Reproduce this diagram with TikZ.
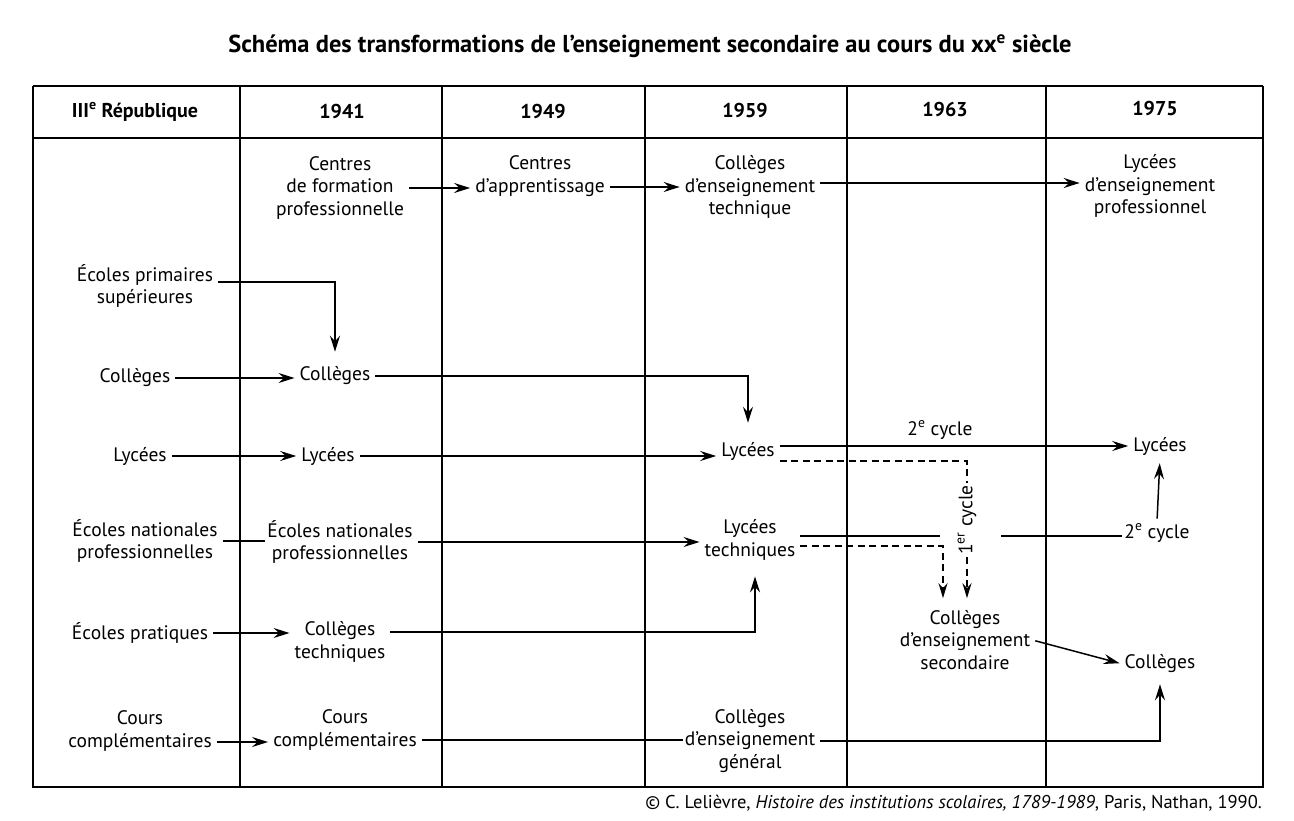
\documentclass[tikz,border=0pt]{standalone}
\usepackage{fontspec}
\setmainfont{PT Sans}
\usetikzlibrary{arrows.meta}

\tikzset{
  lbl/.style={align=center, inner sep=2pt, font=\fontsize{19.5}{22.5}\selectfont},
  head/.style={inner sep=2pt, font=\bfseries\fontsize{20}{22}\selectfont},
  link/.style={line width=1.5pt, shorten <=3pt},
  arr/.style={link, -{Stealth[length=16pt,width=10pt,inset=5.5pt]}, shorten >=3pt},
  dashlink/.style={line width=1.3pt, dash pattern=on 7pt off 4.5pt},
  dasharr/.style={dashlink, -{Stealth[length=15pt,width=9pt,inset=5pt]}},
  rule/.style={line width=1.3pt},
  thickrule/.style={line width=2.4pt}
}

\begin{document}
\begin{tikzpicture}[x=1pt,y=-1pt]
\useasboundingbox[fill=white] (0,0) rectangle (1294,821);

% title
\node[font=\bfseries\fontsize{24.5}{26}\selectfont] (title) at (650,46) {Schéma des transformations de l’enseignement secondaire au cours du xx\textsuperscript{e} siècle};

% table
\draw[thickrule] (33,86) -- (1263,86);
\draw[thickrule] (33,138) -- (1263,138);
\draw[rule] (33,86) -- (33,787) -- (1263,787) -- (1263,86);
\foreach \x in {240,442,645,847,1046}
  \draw[rule] (\x,86) -- (\x,787);

\node[head] (h0) at (135,112) {III\textsuperscript{e} République};
\node[head] (h1) at (342,112) {1941};
\node[head] (h2) at (543,112) {1949};
\node[head] (h3) at (745,111) {1959};
\node[head] (h4) at (945,110) {1963};
\node[head] (h5) at (1155,109) {1975};

% institutions
\node[lbl] (cfp)  at (340,188) {Centres\\de formation\\professionnelle};
\node[lbl] (ca)   at (540,176) {Centres\\d’apprentissage};
\node[lbl] (cet)  at (750,187) {Collèges\\d’enseignement\\technique};
\node[lbl] (lep)  at (1150,186) {Lycées\\d’enseignement\\professionnel};

\node[lbl] (eps)  at (145,286) {Écoles primaires\\supérieures};
\node[lbl] (col0) at (135,378) {Collèges};
\node[lbl] (col1) at (335,376) {Collèges};

\node[lbl] (lyc0) at (140,456) {Lycées};
\node[lbl] (lyc1) at (328,456) {Lycées};
\node[lbl] (lyc3) at (748,451) {Lycées};
\node[lbl] (lyc5) at (1160,446) {Lycées};
\node[lbl] (cyc2a) at (940,430) {2\textsuperscript{e} cycle};

\node[lbl] (enp0) at (145,541) {Écoles nationales\\professionnelles};
\node[lbl] (enp1) at (340,542) {Écoles nationales\\professionnelles};
\node[lbl] (lt3)  at (750,540) {Lycées\\techniques};
\node[lbl] (cyc2b) at (1157,533) {2\textsuperscript{e} cycle};
\node[lbl, rotate=90] (cyc1) at (967,520) {1\textsuperscript{er} cycle};

\node[lbl] (ces)  at (965,640) {Collèges\\d’enseignement\\secondaire};
\node[lbl] (col5) at (1160,664) {Collèges};
\node[lbl] (ep0)  at (140,633) {Écoles pratiques};
\node[lbl] (ct1)  at (340,642) {Collèges\\techniques};

\node[lbl] (cc0)  at (140,731) {Cours\\complémentaires};
\node[lbl] (cc1)  at (345,730) {Cours\\complémentaires};
\node[lbl] (ceg)  at (750,741) {Collèges\\d’enseignement\\général};

\coordinate (gapL) at (940,536);
\coordinate (gapR) at (998,536);

% connectors
\draw[arr] (cfp.east) -- (cfp.east -| ca.west);
\draw[arr] ([yshift=-11pt]ca.east) -- ([yshift=-11pt]ca.east -| cet.west);
\draw[arr] ([yshift=4pt]cet.east) -- ([yshift=4pt]cet.east -| lep.west);

\draw[arr, shorten >=13pt] ([yshift=4pt]eps.north east |- eps.east) -| (col1.north);
\draw[arr] (col0.east) -- (col0.east -| col1.west);
\draw[arr, shorten >=17pt] (col1.east) -| (lyc3.north);

\draw[arr] (lyc0.east) -- (lyc0.east -| lyc1.west);
\draw[arr] (lyc1.east) -- (lyc1.east -| lyc3.west);
\draw[arr] ([yshift=5pt]lyc3.east) -- ([yshift=5pt]lyc3.east -| lyc5.west);

\draw[dashlink] ([yshift=-10pt,xshift=3pt]lyc3.east) -| (cyc1.east);
\draw[dasharr, shorten >=10pt] (cyc1.west) -- (cyc1.west |- ces.north);
\draw[dasharr, shorten >=10pt] ([yshift=-6pt,xshift=3pt]lt3.east) -| ([xshift=-22pt]ces.north);

\draw[link] (enp0.east) -- (enp0.east -| enp1.west);
\draw[arr] (enp1.east) -- (enp1.east -| lt3.west);
\draw[link] ([yshift=4pt]lt3.east) -- (gapL);
\draw[link] (gapR) -- (gapR -| cyc2b.west);
\draw[arr, shorten >=6pt] (cyc2b.north) -- (lyc5.south);

\draw[arr] (ep0.east) -- (ep0.east -| ct1.west);
\draw[arr, shorten >=14pt] ([yshift=10pt]ct1.east) -| ([xshift=5pt]lt3.south);
\draw[arr] (ces.east) -- (col5.west);

\draw[arr] ([yshift=-11pt]cc0.east) -- ([yshift=-11pt]cc0.east -| cc1.west);
\draw[link] ([yshift=-10pt]cc1.east) -- ([yshift=-10pt]cc1.east -| ceg.west);
\draw[arr, shorten >=9pt] (ceg.east) -| (col5.south);

% source
\node[anchor=east, inner sep=0pt, font=\fontsize{18.5}{20}\selectfont] (src) at (1262,803) {© C. Lelièvre, \textit{Histoire des institutions scolaires, 1789-1989}, Paris, Nathan, 1990.};
\end{tikzpicture}
\end{document}
